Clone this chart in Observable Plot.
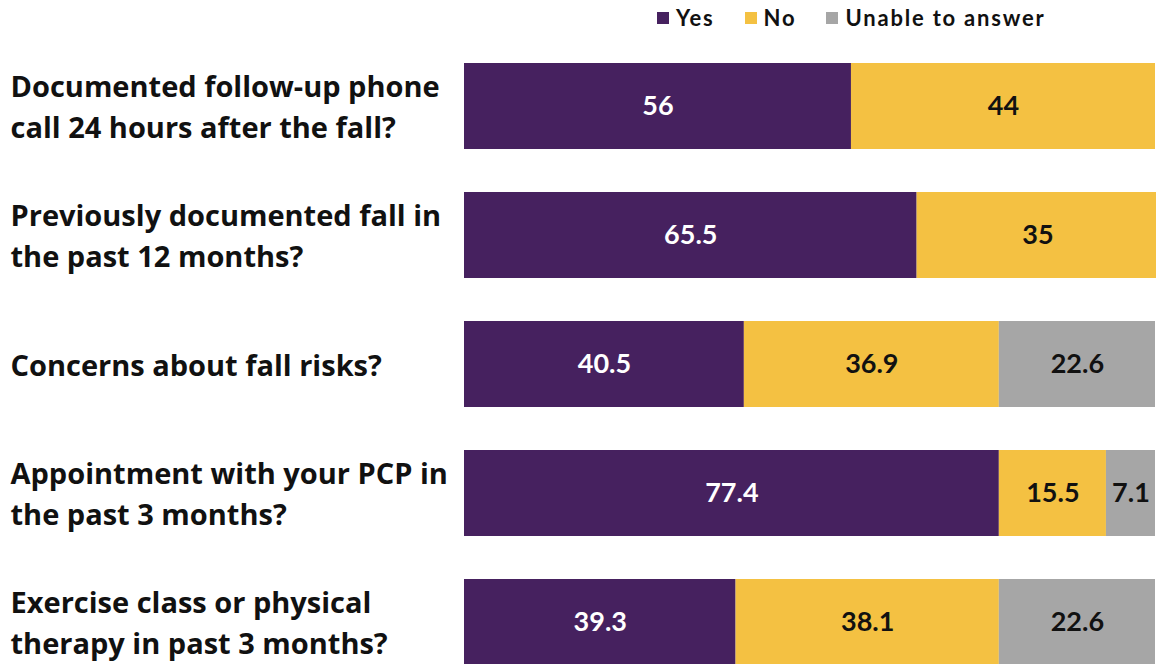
<!DOCTYPE html>
<html>
<head>
<meta charset="utf-8">
<script src="https://cdn.jsdelivr.net/npm/d3@7"></script>
<script src="https://cdn.jsdelivr.net/npm/@observablehq/plot@0.6"></script>
<style>
  html, body { margin: 0; padding: 0; background: #fff; overflow: hidden; }
  #wrap { position: relative; width: 1156px; height: 664px; }
  #legend { position: absolute; top: 4px; left: 657px; display: flex; gap: 30px;
    font-family: Lato, sans-serif; font-weight: 700; font-size: 22px; color: #111; letter-spacing: 1.8px; }
  #legend span.item { display: flex; align-items: center; }
  #legend span.sw { display: inline-block; width: 12px; height: 12px; margin-right: 7px; }
  #chart { position: absolute; top: 0; left: 0; }
</style>
</head>
<body>
<div id="wrap">
  <div id="chart"></div>
  <div id="legend"></div>
</div>
<script>
const questions = [
  "Documented follow-up phone\ncall 24 hours after the fall?",
  "Previously documented fall in\nthe past 12 months?",
  "Concerns about fall risks?",
  "Appointment with your PCP in\nthe past 3 months?",
  "Exercise class or physical\ntherapy in past 3 months?"
];
const answers = ["Yes", "No", "Unable to answer"];
const colors = ["#46215f", "#f4c142", "#a6a6a6"];
const yesValues = [56, 65.5, 40.5, 77.4, 39.3];
const noValues = [44, 35, 36.9, 15.5, 38.1];
const unableValues = [null, null, 22.6, 7.1, 22.6];

const series = [yesValues, noValues, unableValues];
const data = [];
questions.forEach((q, i) => {
  answers.forEach((a, j) => {
    const v = series[j][i];
    if (v != null) data.push({question: q, answer: a, value: v});
  });
});

const legend = document.getElementById("legend");
answers.forEach((a, j) => {
  const item = document.createElement("span");
  item.className = "item";
  item.innerHTML = `<span class="sw" style="background:${colors[j]}"></span>${a}`;
  legend.appendChild(item);
});

const chart = Plot.plot({
  width: 1156,
  height: 664,
  marginLeft: 464,
  marginRight: 1,
  marginTop: 0,
  marginBottom: 0,
  style: {fontFamily: "Lato, sans-serif", background: "transparent", overflow: "hidden"},
  x: {domain: [0, 100], range: [464, 1155], axis: null},
  y: {domain: questions, range: [40.25, 687.75], paddingInner: 0.33, paddingOuter: 0.165, axis: null},
  color: {domain: answers, range: colors},
  marks: [
    Plot.barX(data, Plot.stackX({x: "value", y: "question", fill: "answer", order: answers})),
    Plot.text(data, Plot.stackX({
      x: "value", y: "question", z: "answer", order: answers,
      text: d => String(d.value),
      fill: d => d.answer === "Yes" ? "#ffffff" : "#111111",
      fontSize: 27, fontWeight: 700
    })),
    Plot.text(questions, {
      y: d => d, text: d => d, frameAnchor: "left", dx: -454, dy: -2,
      textAnchor: "start", fontSize: 29, fontWeight: 700, lineHeight: 1.414, fill: "#111",
      fontFamily: "'Open Sans', sans-serif"
    })
  ]
});
document.getElementById("chart").appendChild(chart);
</script>
</body>
</html>
